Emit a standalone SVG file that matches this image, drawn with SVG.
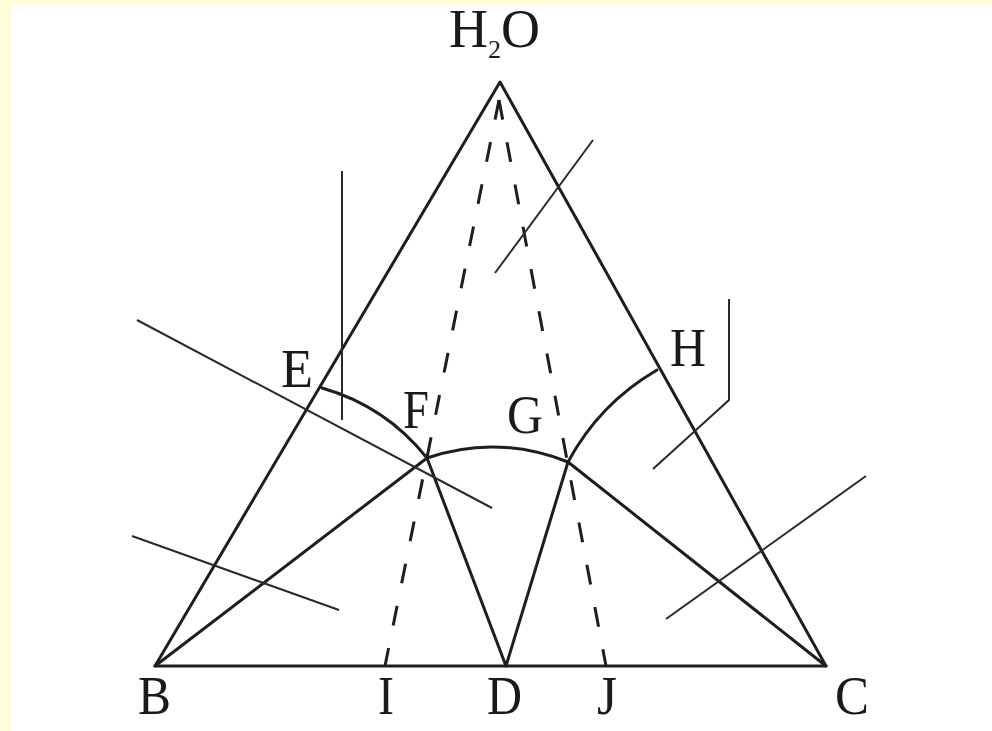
<svg xmlns="http://www.w3.org/2000/svg" width="992" height="731" viewBox="0 0 992 731">
<style>
.main{stroke:#1e1e1e;stroke-width:3;fill:none;stroke-linecap:round;stroke-linejoin:round}
.dash{stroke:#1e1e1e;stroke-width:3;fill:none;stroke-dasharray:20 23}
.thin{stroke:#2a2a2a;stroke-width:2;fill:none}
.lbl{font-family:"Liberation Serif","Times New Roman",serif;font-size:54px;fill:#1a1a1a}
</style>
<rect x="0" y="0" width="992" height="731" fill="#FFFCD9"/>
<rect x="12" y="5" width="980" height="726" fill="#FFFFFF"/>
<g id="triangle">
<polygon class="main" points="500,82 155,666 826,666"/>
</g>
<g id="connectors">
<polyline class="main" points="155,666 427,458 506,666 568,462 826,666"/>
<line class="dash" x1="499" y1="100" x2="385" y2="666"/>
<line class="dash" x1="499" y1="100" x2="606" y2="666"/>
<path class="main" d="M322,388 Q385.5,406 427,458"/>
<path class="main" d="M427,458 Q497,434 568,462"/>
<path class="main" d="M568,462 Q599.5,403.5 657,370"/>
</g>
<g id="pointers">
<line class="thin" x1="342" y1="171" x2="342" y2="420"/>
<line class="thin" x1="137" y1="320" x2="492" y2="508"/>
<line class="thin" x1="132" y1="536" x2="339" y2="610"/>
<line class="thin" x1="866" y1="476" x2="666" y2="619"/>
<polyline class="thin" points="729,299 729,400 653,469"/>
<line class="thin" x1="593" y1="140" x2="495" y2="273"/>
</g>
<g id="labels">
<text class="lbl" x="449" y="47" font-size="52">H<tspan font-size="26" dy="11">2</tspan><tspan dy="-11">O</tspan></text>
<text class="lbl" x="281" y="387" textLength="32" lengthAdjust="spacingAndGlyphs">E</text>
<text class="lbl" x="403" y="428" textLength="26" lengthAdjust="spacingAndGlyphs">F</text>
<text class="lbl" x="507" y="433" textLength="36" lengthAdjust="spacingAndGlyphs">G</text>
<text class="lbl" x="670" y="366" textLength="36" lengthAdjust="spacingAndGlyphs">H</text>
<text class="lbl" x="138" y="714" textLength="33" lengthAdjust="spacingAndGlyphs">B</text>
<text class="lbl" x="378" y="714" textLength="16" lengthAdjust="spacingAndGlyphs">I</text>
<text class="lbl" x="487" y="714" textLength="35" lengthAdjust="spacingAndGlyphs">D</text>
<text class="lbl" x="597" y="714" textLength="20" lengthAdjust="spacingAndGlyphs">J</text>
<text class="lbl" x="835" y="714" textLength="34" lengthAdjust="spacingAndGlyphs">C</text>
</g>
</svg>
